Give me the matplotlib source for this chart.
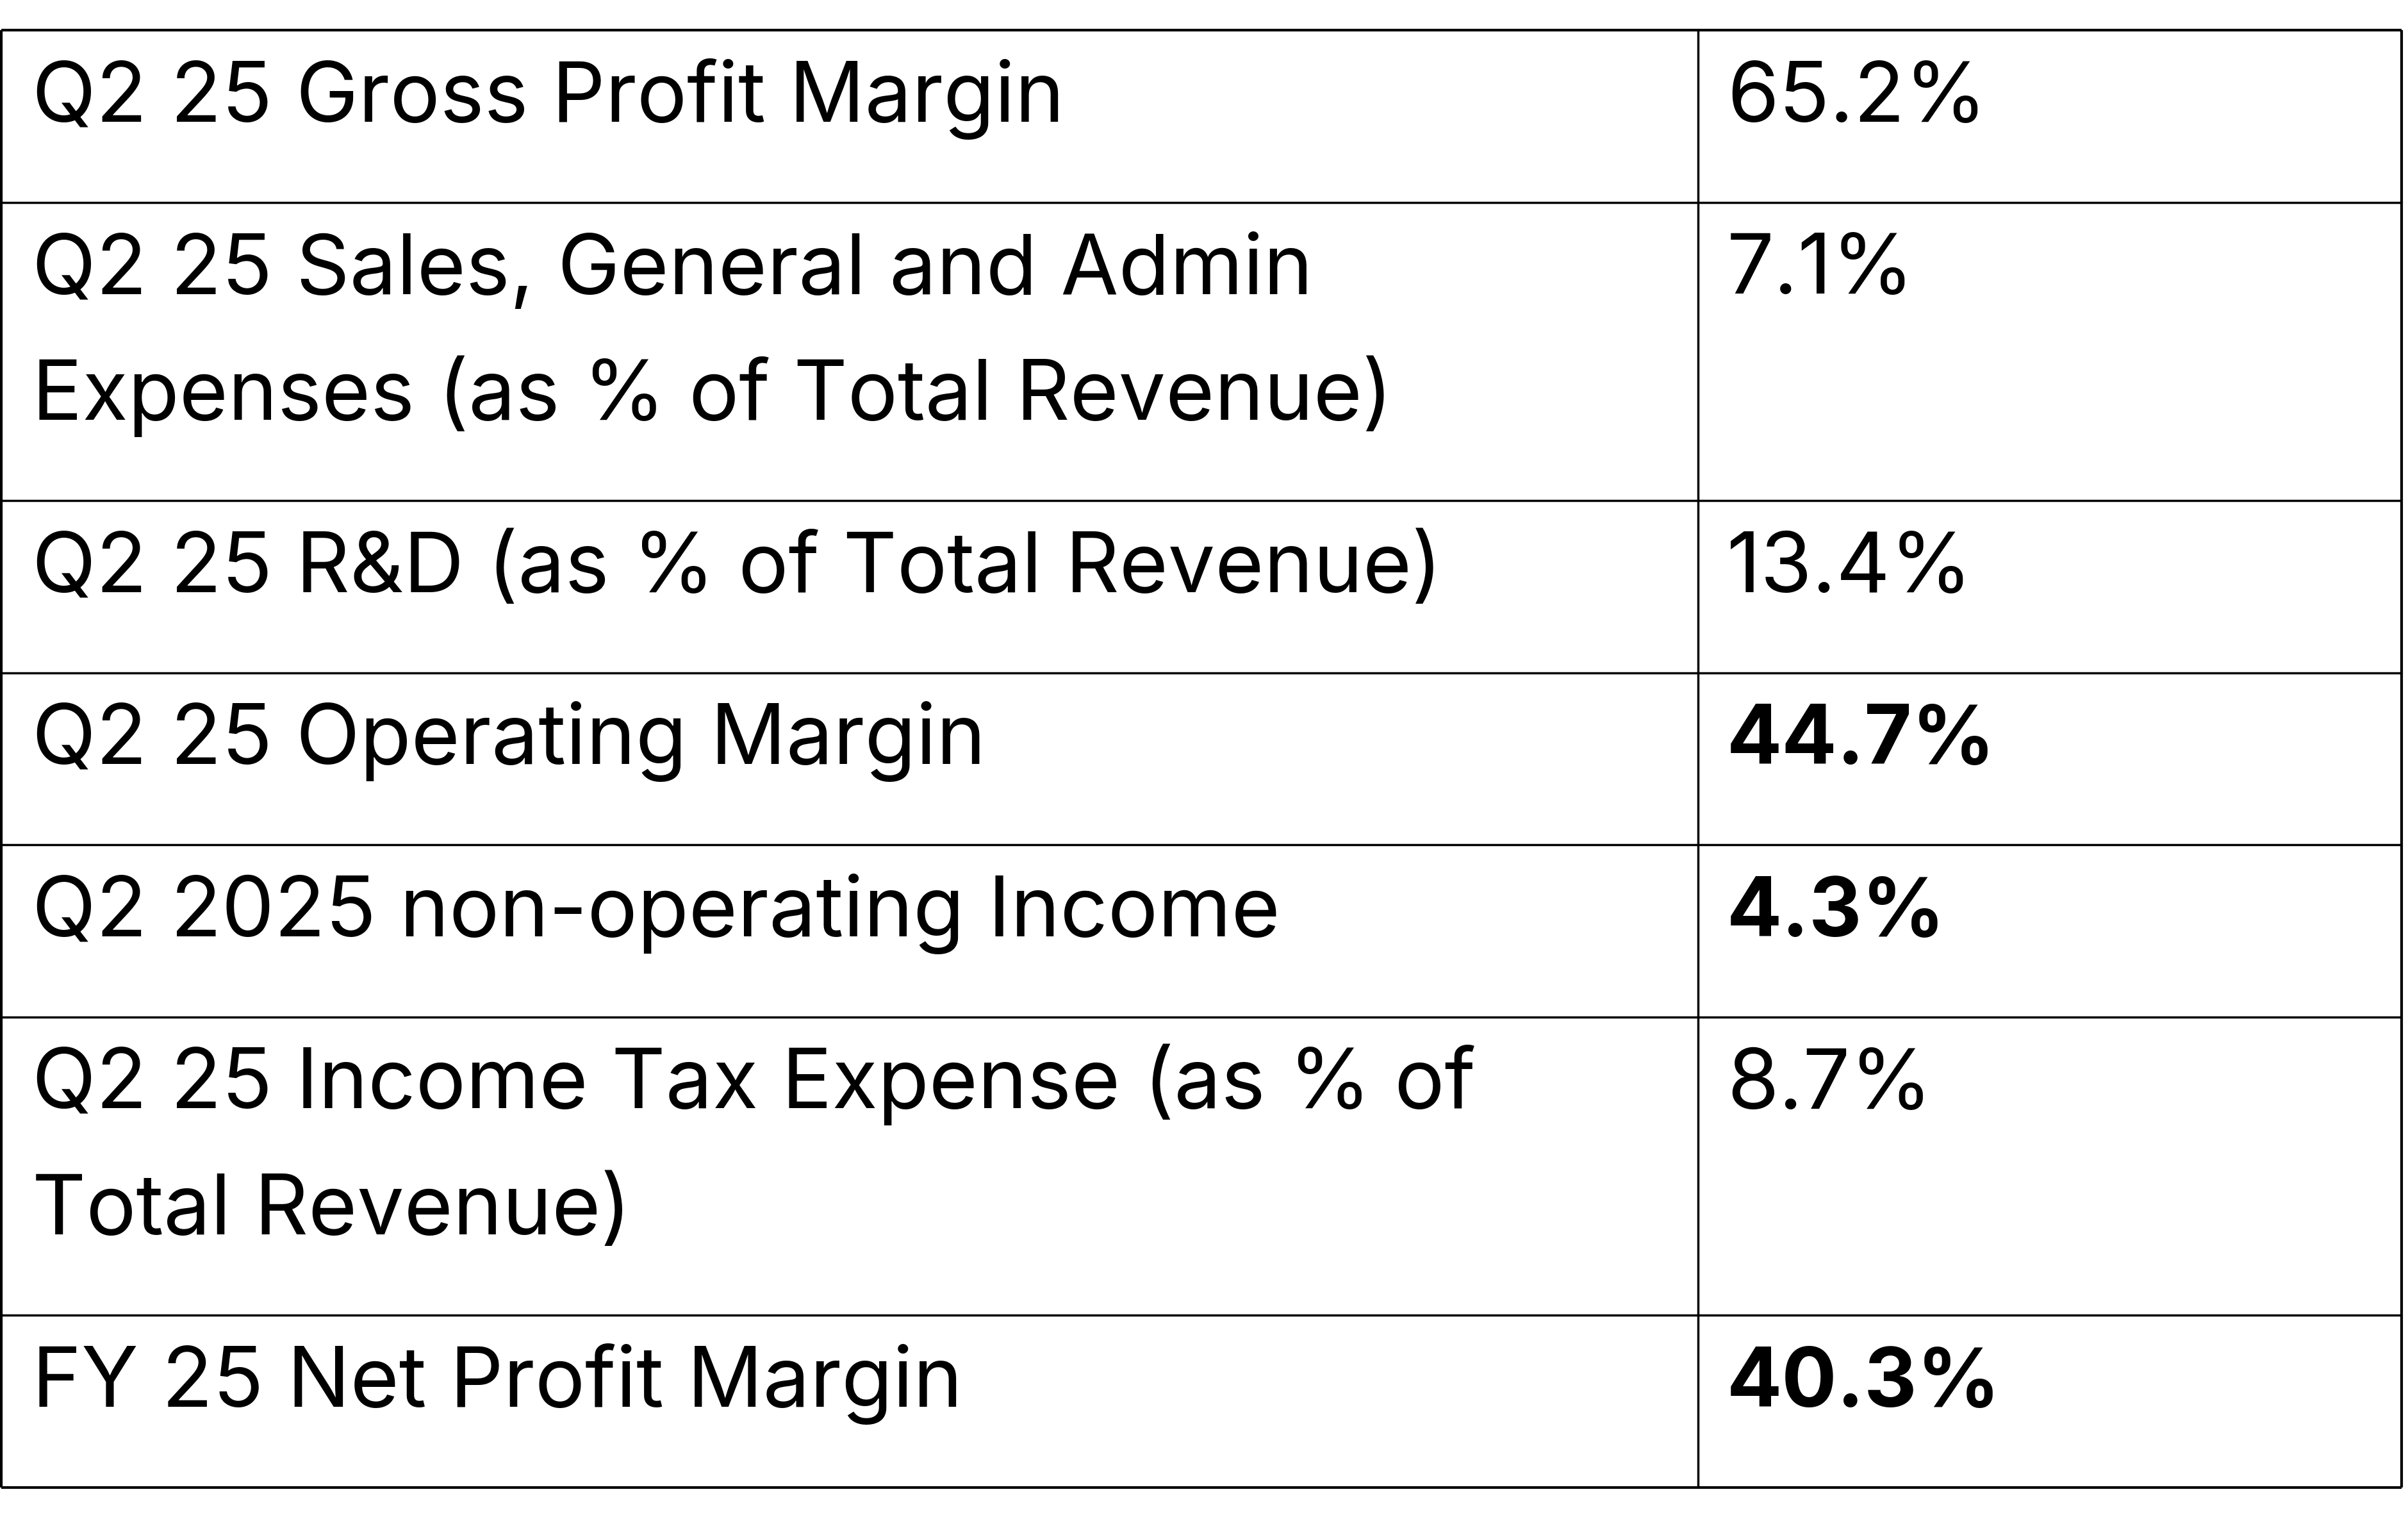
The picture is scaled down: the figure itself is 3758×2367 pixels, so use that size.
import matplotlib
matplotlib.use("Agg")
import matplotlib.pyplot as plt

# table content
labels = [
    "Q2 25 Gross Profit Margin",
    "Q2 25 Sales, General and Admin\nExpenses (as % of Total Revenue)",
    "Q2 25 R&D (as % of Total Revenue)",
    "Q2 25 Operating Margin",
    "Q2 2025 non-operating Income",
    "Q2 25 Income Tax Expense (as % of\nTotal Revenue)",
    "FY 25 Net Profit Margin",
]
values = ["65.2%", "7.1%", "13.4%", "44.7%", "4.3%", "8.7%", "40.3%"]
bold = [False, False, False, True, True, False, True]

W, H = 3758, 2367
fig = plt.figure(figsize=(W / 100, H / 100), dpi=100)
ax = fig.add_axes([0, 0, 1, 1])
ax.set_xlim(0, W)
ax.set_ylim(H, 0)
ax.axis("off")

x_left, x_mid, x_right = 2, 2650, 3748
top = 47
row_h1 = 268.5      # one-line row
line_step = 197     # extra height per wrapped line
base_off = 143
fs = 94
fs_bold = 92
font = ["Inter", "DejaVu Sans"]

# row boundaries
edges = [top]
for lab in labels:
    n = lab.count("\n") + 1
    edges.append(edges[-1] + row_h1 + (n - 1) * line_step)

inner_lw = 2.5
outer_lw = 3.0
ax.hlines(edges[1:-1], x_left, x_right, colors="black", lw=inner_lw)
ax.vlines(x_mid, edges[0], edges[-1], colors="black", lw=inner_lw)
ax.hlines([edges[0], edges[-1]], x_left, x_right, colors="black", lw=outer_lw)
ax.vlines([x_left, x_right], edges[0], edges[-1], colors="black", lw=outer_lw)

for i, (lab, val, b) in enumerate(zip(labels, values, bold)):
    y0 = edges[i] + base_off
    for j, line in enumerate(lab.split("\n")):
        ax.text(x_left + 48, y0 + j * line_step, line, fontsize=fs, family=font,
                va="baseline", ha="left", color="black")
    ax.text(x_mid + 45, y0, val, fontsize=fs_bold if b else fs, family=font,
            va="baseline", ha="left", color="black",
            fontweight="bold" if b else "normal")

fig.savefig("out.png", dpi=100, facecolor="white")
